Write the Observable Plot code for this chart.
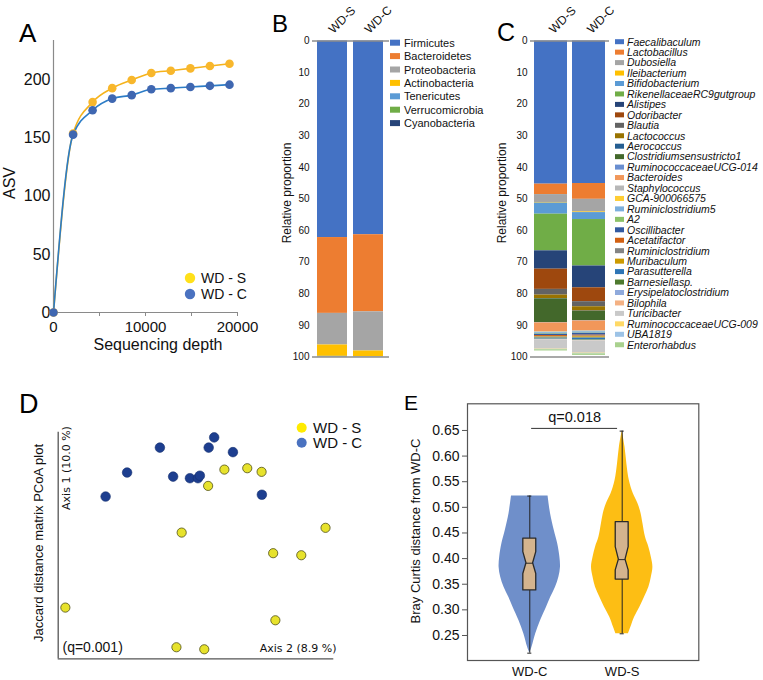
<!DOCTYPE html>
<html><head><meta charset="utf-8">
<script src="https://cdn.jsdelivr.net/npm/d3@7"></script>
<script src="https://cdn.jsdelivr.net/npm/@observablehq/plot@0.6"></script>
<style>
body{margin:0;background:#fff;}
#fig{position:relative;width:763px;height:680px;overflow:hidden;background:#fff;}
</style></head><body><div id="fig"></div>
<script>
// ---------- Panel A: rarefaction ----------
const depth = [0, 2130, 4250, 6380, 8500, 10630, 12750, 14880, 17000, 19130];
const asvWDS = [0, 154, 181, 193, 200, 206, 208, 210, 212, 214];
const asvWDC = [0, 153, 174, 184, 187, 192, 193, 194, 195, 196];
const groups = ["WD - S", "WD - C"];
const depthTicks = [0, 5000, 10000, 15000, 20000];
const asvTicks = [0, 50, 100, 150, 200];

// ---------- Panel B: phyla ----------
const samples = ["WD-S", "WD-C"];
const phyla = ["Firmicutes","Bacteroidetes","Proteobacteria","Actinobacteria","Tenericutes","Verrucomicrobia","Cyanobacteria"];
const phylaWDS = [62.2, 24.0, 10.0, 3.6, 0.1, 0.05, 0.05];
const phylaWDC = [61.3, 24.4, 12.4, 1.8, 0.05, 0.03, 0.02];
const phylaColors = ["#4472C4","#ED7D31","#A5A5A5","#FFC000","#5B9BD5","#70AD47","#264478"];

// ---------- Panel C: genera ----------
const genera = ["Faecalibaculum","Lactobacillus","Dubosiella","Ileibacterium","Bifidobacterium","RikenellaceaeRC9gutgroup","Alistipes","Odoribacter","Blautia","Lactococcus","Aerococcus","Clostridiumsensustricto1","RuminococcaceaeUCG-014","Bacteroides","Staphylococcus","GCA-900066575","Ruminiclostridium5","A2","Oscillibacter","Acetatifactor","Ruminiclostridium","Muribaculum","Parasutterella","Barnesiellasp.","Erysipelatoclostridium","Bilophila","Turicibacter","RuminococcaceaeUCG-009","UBA1819","Enterorhabdus"];
const generaWDS = [45.3, 3.3, 2.5, 0.2, 3.5, 11.6, 5.8, 6.4, 1.8, 1.1, 0.1, 7.5, 0.1, 2.8, 0.2, 0.1, 0.3, 0.2, 0.4, 0.3, 0.2, 0.3, 0.3, 0.1, 0.1, 0.1, 2.9, 0.1, 0.1, 0.4];
const generaWDC = [45.1, 5.0, 4.0, 0.2, 2.2, 14.7, 6.9, 4.4, 1.6, 1.4, 0.1, 2.9, 0.1, 3.1, 0.2, 0.1, 0.4, 0.1, 0.6, 0.3, 0.2, 0.4, 0.5, 0.2, 0.1, 0.1, 3.9, 0.1, 0.1, 0.5];
const generaColors = ["#4472C4","#ED7D31","#A5A5A5","#FFC000","#5B9BD5","#70AD47","#264478","#9E480E","#636363","#997300","#255E91","#43682B","#698ED0","#F1975A","#B7B7B7","#FFCD33","#7CAFDD","#8CC168","#335AA1","#D26012","#848484","#CC9A00","#2E75B6","#4E7A2E","#8FAADC","#F4B183","#C9C9C9","#FFD966","#9DC3E6","#A9D18E"];
const propTicks = [0,10,20,30,40,50,60,70,80,90,100];

// ---------- Panel D: PCoA scores ----------
const wdsAxis2 = [60.3, 68.6, 73.8, 54.4, 44.8, 97.0, 78.0, 88.2, 2.6, 78.8, 42.9, 53.0];
const wdsAxis1 = [83.5, 84.1, 82.5, 76.3, 55.7, 57.8, 46.6, 45.7, 22.6, 17.0, 5.1, 4.2];
const wdcAxis2 = [17.2, 25.0, 36.9, 41.7, 47.8, 50.7, 51.4, 54.6, 56.6, 63.4, 73.9];
const wdcAxis1 = [71.6, 82.2, 93.2, 80.4, 79.7, 79.7, 80.8, 93.2, 97.7, 91.2, 72.4];

// ---------- Panel E: Bray Curtis ----------
const bcGroups = ["WD-C", "WD-S"];
const violinWDCy = [0.2155, 0.227, 0.253, 0.279, 0.305, 0.325, 0.344, 0.364, 0.383, 0.403, 0.429, 0.455, 0.4875, 0.522];
const violinWDCd = [0, 0.07, 0.19, 0.35, 0.54, 0.68, 0.83, 0.94, 0.99, 0.97, 0.90, 0.79, 0.67, 0.59];
const violinWDSy = [0.2533, 0.2662, 0.2857, 0.3053, 0.3248, 0.3443, 0.3638, 0.3833, 0.4028, 0.4223, 0.442, 0.468, 0.4875, 0.507, 0.5265, 0.5524, 0.585, 0.6175, 0.6487];
const violinWDSd = [0.20, 0.28, 0.40, 0.57, 0.72, 0.86, 0.94, 0.99, 0.94, 0.86, 0.75, 0.67, 0.61, 0.51, 0.36, 0.23, 0.15, 0.09, 0];
const boxMin = [0.2155, 0.2533];
const boxQ1 = [0.338, 0.359];
const boxMedian = [0.391, 0.398];
const boxQ3 = [0.439, 0.471];
const boxMax = [0.522, 0.6487];
const notchLow = [0.370, 0.377];
const notchHigh = [0.4125, 0.4223];
const qLabel = "q=0.018";
const bcTicks = [0.25, 0.30, 0.35, 0.40, 0.45, 0.50, 0.55, 0.60, 0.65];

// ================= drawing =================
const FONT = '"Liberation Sans", Arial, Helvetica, sans-serif';
const fig = document.getElementById("fig");
function place(el, left, top) {
  el.style.position = "absolute";
  el.style.left = left + "px";
  el.style.top = top + "px";
  fig.appendChild(el);
  return el;
}
const baseStyle = {background: "transparent", fontFamily: FONT, color: "#111", overflow: "visible"};

// ---- A ----
const aRows = groups.flatMap(g => depth.map((d, i) => ({group: g, depth: d, asv: (g === "WD - S" ? asvWDS : asvWDC)[i]})));
const colA = {"WD - S": {line: "#F5B31C", dot: "#F8B72C"}, "WD - C": {line: "#2C7CC6", dot: "#3F67B1"}};
const plotA = Plot.plot({
  width: 260, height: 360, marginLeft: 53, marginRight: 23, marginTop: 40, marginBottom: 48,
  style: {...baseStyle, fontSize: "15px"},
  x: {domain: [0, 20000]}, y: {domain: [0, 234]},
  marks: [
    Plot.ruleX([0], {stroke: "#8a8a8a", strokeWidth: 1.2}),
    Plot.ruleY([0], {stroke: "#8a8a8a", strokeWidth: 1.2}),
    Plot.axisY({ticks: asvTicks, tickSize: 0, tickPadding: 3, label: null, fontSize: 16}),
    Plot.axisX({ticks: depthTicks, tickSize: 4, tickPadding: 5, tickFormat: d => d % 10000 === 0 ? String(d) : "", label: null, fontSize: 15, stroke: "#8a8a8a"}),
    ...groups.map(g => Plot.line(aRows.filter(r => r.group === g), {x: "depth", y: "asv", stroke: colA[g].line, strokeWidth: 1.6, curve: "monotone-x"})),
    ...groups.map(g => Plot.dot(aRows.filter(r => r.group === g), {x: "depth", y: "asv", r: 4.3, fill: colA[g].dot}))
  ]
});
place(plotA, 0, 0);

// ---- stacked bars helper ----
function stackedPlot(taxa, valsS, valsC, colors, opts) {
  const rows = samples.flatMap((s, si) => taxa.map((t, ti) => ({sample: s, taxon: t, value: (si === 0 ? valsS : valsC)[ti]})));
  return Plot.plot({
    width: opts.width, height: 360, marginLeft: opts.marginLeft, marginRight: opts.marginRight, marginTop: 40.5, marginBottom: 3.5,
    style: {...baseStyle, fontSize: "10px"},
    x: {domain: samples, paddingInner: opts.pin, paddingOuter: opts.pout, axis: null},
    y: {domain: [0, 100], reverse: true},
    color: {domain: taxa, range: colors},
    marks: [
      Plot.barY(rows, {x: "sample", y: "value", fill: "taxon"}),
      Plot.ruleY([0, 100], {stroke: "#8c8c8c", strokeWidth: 1.6}),
      Plot.axisY({ticks: propTicks, tickSize: 0, tickPadding: 3, fontSize: 10, label: null}),
      Plot.text(samples, {x: d => d, frameAnchor: "top", dy: -7, dx: opts.dx, rotate: -45, textAnchor: "start", lineAnchor: "bottom", fontSize: 12, fill: "#111"})
    ]
  });
}
place(stackedPlot(phyla, phylaWDS, phylaWDC, phylaColors, {width: 140, marginLeft: 52, marginRight: 11, pin: 0.153, pout: 0.128, dx: 1}), 260, 0);
place(stackedPlot(genera, generaWDS, generaWDC, generaColors, {width: 125, marginLeft: 40, marginRight: 6, pin: 0.13, pout: 0.086, dx: 3}), 490, 0);

// ---- D ----
const dS = wdsAxis2.map((v, i) => ({a2: v, a1: wdsAxis1[i]}));
const dC = wdcAxis2.map((v, i) => ({a2: v, a1: wdcAxis1[i]}));
const plotD = Plot.plot({
  width: 345, height: 290, marginLeft: 57.7, marginRight: 11.7, marginTop: 51.7, marginBottom: 11.7,
  style: {...baseStyle, fontSize: "12px"},
  x: {domain: [0, 100], axis: null}, y: {domain: [0, 100], axis: null},
  marks: [
    Plot.ruleX([0], {stroke: "#555", strokeWidth: 1.3}),
    Plot.ruleY([0], {stroke: "#555", strokeWidth: 1.3}),
    Plot.dot(dC, {x: "a2", y: "a1", r: 4.8, fill: "#1D3E8F", stroke: "#15306e", strokeWidth: 0.6}),
    Plot.dot(dS, {x: "a2", y: "a1", r: 4.6, fill: "#E7E22C", stroke: "#4f4f16", strokeWidth: 0.8})
  ]
});
place(plotD, 0, 380);

// ---- E ----
const K = 0.3355;   // violin half-width per unit density (x units)
const BW = 0.07, NW = 0.036;
const vC = violinWDCy.map((y, i) => ({y, d: violinWDCd[i]}));
const vS = violinWDSy.map((y, i) => ({y, d: violinWDSd[i]}));
const boxShape = i => [
  {y: boxQ1[i], h: BW}, {y: notchLow[i], h: BW}, {y: boxMedian[i], h: NW}, {y: notchHigh[i], h: BW}, {y: boxQ3[i], h: BW}
];
const boxMarks = [0, 1].flatMap(i => {
  const c = i + 1;
  return [
    Plot.ruleX([c], {y1: boxMin[i], y2: boxMax[i], stroke: "#222", strokeWidth: 1}),
    Plot.ruleY([boxMax[i], boxMin[i]], {x1: c - 0.022, x2: c + 0.022, stroke: "#222", strokeWidth: 1}),
    Plot.areaX(boxShape(i), {y: "y", x1: d => c - d.h, x2: d => c + d.h, fill: "#D4B48E", stroke: "#2a2a2a", strokeWidth: 1.3}),
    Plot.ruleY([boxMedian[i]], {x1: c - NW, x2: c + NW, stroke: "#2a2a2a", strokeWidth: 1})
  ];
});
const plotE = Plot.plot({
  width: 368, height: 300, marginLeft: 72, marginRight: 64.7, marginTop: 23.3, marginBottom: 20,
  style: {...baseStyle, fontSize: "14px"},
  x: {domain: [0.326, 2.829]}, y: {domain: [0.2012, 0.702]},
  marks: [
    Plot.areaX(vC, {y: "y", x1: d => 1 - d.d * K, x2: d => 1 + d.d * K, fill: "#6F8FCA", curve: "catmull-rom"}),
    Plot.areaX(vS, {y: "y", x1: d => 2 - d.d * K, x2: d => 2 + d.d * K, fill: "#FDBE14", curve: "catmull-rom"}),
    ...boxMarks,
    Plot.frame({stroke: "#555", strokeWidth: 1.2}),
    Plot.axisY({ticks: bcTicks, tickFormat: d3.format(".2f"), tickSize: 5, tickPadding: 3, fontSize: 14, label: null, stroke: "#555"}),
    Plot.axisX({ticks: [1, 2], tickFormat: d => bcGroups[d - 1], tickSize: 0, tickPadding: 6, fontSize: 13, label: null}),
    Plot.ruleY([0.654], {x1: 1.02, x2: 1.95, stroke: "#333", strokeWidth: 1}),
    Plot.text([qLabel], {x: 1.485, y: 0.676, fontSize: 14.5, fill: "#111"})
  ]
});
place(plotE, 395, 380);

// ---- overlay text: panel letters, axis titles, legends ----
const ov = d3.create("svg").attr("width", 763).attr("height", 680)
  .style("position", "absolute").style("left", "0px").style("top", "0px")
  .style("font-family", FONT).style("pointer-events", "none");
function txt(s, x, y, size, o = {}) {
  const t = ov.append("text").text(s).attr("font-size", size).attr("fill", o.fill || "#111");
  if (o.rotate) t.attr("transform", `translate(${x},${y}) rotate(${o.rotate})`);
  else t.attr("x", x).attr("y", y);
  if (o.anchor) t.attr("text-anchor", o.anchor);
  if (o.family) t.attr("font-family", o.family);
  if (o.italic) t.attr("font-style", "italic");
  return t;
}
// letters
txt("A", 19, 42, 26, {fill: "#000"});
txt("B", 272, 32, 24, {fill: "#000"});
txt("C", 497, 41, 25, {fill: "#000"});
txt("D", 19, 413, 27, {fill: "#000"});
txt("E", 404, 410, 21, {fill: "#000"});
// A titles & legend
txt("ASV", 15, 183, 16, {rotate: -90, anchor: "middle"});
txt("Sequencing depth", 158, 350, 16, {anchor: "middle"});
const legA = [{g: "WD - S", c: "#FFE01A"}, {g: "WD - C", c: "#4A72C0"}];
legA.forEach((l, i) => {
  ov.append("circle").attr("cx", 190).attr("cy", 278 + i * 16).attr("r", 5.2).attr("fill", l.c);
  txt(l.g, 201, 283 + i * 16, 14);
});
// B / C titles
txt("Relative proportion", 291, 193, 12, {rotate: -90, anchor: "middle"});
txt("Relative proportion", 506, 193, 12, {rotate: -90, anchor: "middle"});
phyla.forEach((p, i) => {
  const y = 42.7 + i * 13.4;
  ov.append("rect").attr("x", 390).attr("y", y - 3).attr("width", 10).attr("height", 6).attr("fill", phylaColors[i]);
  txt(p, 404, y + 4, 11);
});
genera.forEach((g, i) => {
  const y = 41.7 + i * 10.45;
  ov.append("rect").attr("x", 615).attr("y", y - 2.5).attr("width", 9).attr("height", 5).attr("fill", generaColors[i]);
  txt(g, 627, y + 3.8, 10.5, {italic: true});
});
// D
txt("Jaccard distance matrix PCoA plot", 42.5, 543, 13, {rotate: -90, anchor: "middle"});
txt("Axis 1 (10.0 %)", 70, 468, 11, {rotate: -90, anchor: "middle", family: '"DejaVu Sans", Verdana, sans-serif'});
txt("Axis 2 (8.9 %)", 336.5, 652, 11, {anchor: "end", family: '"DejaVu Sans", Verdana, sans-serif'});
txt("(q=0.001)", 62.5, 651.5, 14);
const legD = [{g: "WD - S", c: "#FFEB00"}, {g: "WD - C", c: "#4A72C0"}];
legD.forEach((l, i) => {
  ov.append("circle").attr("cx", 301.7).attr("cy", 427.7 + i * 15).attr("r", 5).attr("fill", l.c);
  txt(l.g, 313, 433 + i * 15, 15);
});
// E
txt("Bray Curtis distance from WD-C", 420, 531, 13, {rotate: -90, anchor: "middle"});
fig.appendChild(ov.node());
</script></body></html>
